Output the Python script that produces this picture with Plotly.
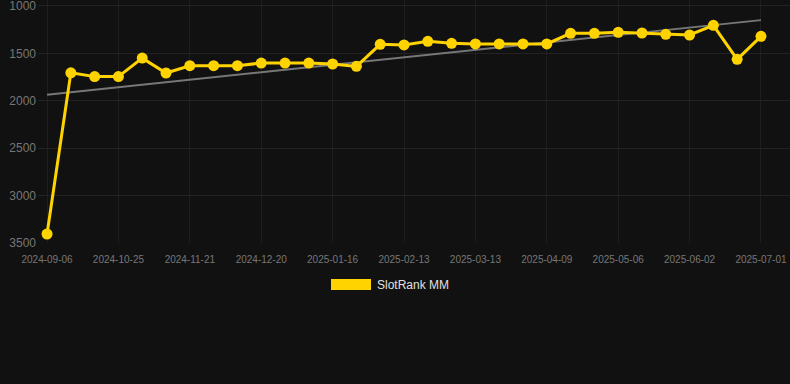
import numpy as np
import plotly.graph_objects as go

dates = ["2024-09-06", "2024-10-07", "2024-10-16", "2024-10-25", "2024-11-03", "2024-11-12",
         "2024-11-21", "2024-11-30", "2024-12-10", "2024-12-20", "2024-12-29", "2025-01-07",
         "2025-01-16", "2025-01-25", "2025-02-04", "2025-02-13", "2025-02-22", "2025-03-04",
         "2025-03-13", "2025-03-22", "2025-03-31", "2025-04-09", "2025-04-18", "2025-04-27",
         "2025-05-06", "2025-05-15", "2025-05-24", "2025-06-02", "2025-06-11", "2025-06-21",
         "2025-07-01"]
ranks = [3405, 1705, 1745, 1745, 1550, 1707, 1630, 1630, 1630, 1602, 1602, 1602,
         1612, 1637, 1405, 1411, 1373, 1394, 1400, 1400, 1400, 1400, 1289, 1289,
         1278, 1285, 1299, 1306, 1204, 1563, 1320]
tick_labels = dates[::3]
y_ticks = [1000, 1500, 2000, 2500, 3000, 3500]
series_name = "SlotRank MM"

x_idx = np.arange(len(ranks))
slope, intercept = np.polyfit(x_idx, ranks, 1)
trend = slope * x_idx + intercept

YELLOW = "#FFD300"
BG = "#111111"
GRID = "#1e1e1e"

fig = go.Figure()
fig.add_trace(go.Scatter(x=x_idx, y=trend, mode="lines",
                         line=dict(color="#777777", width=2), showlegend=False, hoverinfo="skip"))
fig.add_trace(go.Scatter(x=x_idx, y=ranks, mode="lines+markers", name=series_name,
                         line=dict(color=YELLOW, width=3), marker=dict(color=YELLOW, size=11),
                         showlegend=False))

fig.update_layout(
    width=790, height=384,
    paper_bgcolor=BG, plot_bgcolor=BG,
    margin=dict(l=38, r=0, t=0, b=141),
    font=dict(family="Liberation Sans, Arial, sans-serif", color="#777777"),
    xaxis=dict(range=[-0.38, 31.22], tickmode="array", tickvals=x_idx[::3].tolist(),
               ticktext=tick_labels, showgrid=True, gridcolor=GRID, zeroline=False,
               tickfont=dict(size=10, color="#777777"), showline=False, ticks="",
               ticklabelstandoff=9, ticklabeloverflow="allow"),
    yaxis=dict(range=[3500, 937], tickvals=y_ticks,
               showgrid=True, gridcolor="#222222", zeroline=False,
               tickfont=dict(size=12, color="#777777"), ticks="", ticklabelstandoff=1,
               ticklabeloverflow="allow"),
    shapes=[dict(type="rect", xref="paper", yref="paper",
                 x0=(331 - 38) / 752, x1=(371 - 38) / 752,
                 y0=(384 - 141 - 290) / 243, y1=(384 - 141 - 279) / 243,
                 fillcolor=YELLOW, line=dict(width=0))],
    annotations=[dict(text=series_name, xref="paper", yref="paper",
                      x=(375 - 38) / 752, y=(384 - 141 - 284.5) / 243,
                      xanchor="left", yanchor="middle", showarrow=False,
                      font=dict(size=12, color="#E0E0E0"))],
)

fig.write_html("out.html", config={"displayModeBar": False},
               post_script="document.body.style.margin='0';document.body.style.background='#111111';")
